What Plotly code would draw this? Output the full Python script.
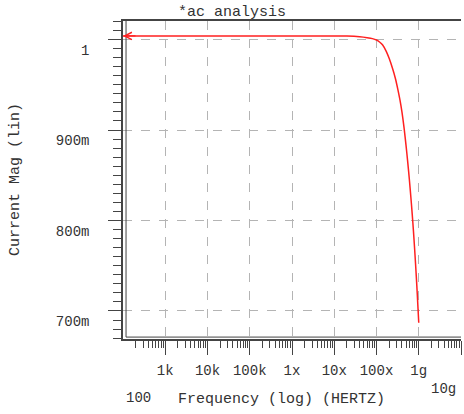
import math
import plotly.graph_objects as go

# --- data ---
freq = [100, 1e3, 1e4, 1e5, 1e6, 1e7, 2e7, 4e7, 6e7, 8e7, 1e8, 1.2e8, 1.4e8,
        1.7e8, 2e8, 2.4e8, 2.8e8, 3.2e8, 3.6e8, 4e8, 4.5e8, 5e8, 5.5e8, 6e8,
        6.5e8, 7e8, 7.5e8, 8e8, 8.5e8, 9e8, 9.5e8, 1e9]
mag = [1.004, 1.004, 1.004, 1.004, 1.004, 1.004, 1.0038, 1.003, 1.002, 1.001,
       0.9995, 0.997, 0.994, 0.987, 0.979, 0.968, 0.957, 0.945, 0.933, 0.920,
       0.902, 0.883, 0.864, 0.845, 0.826, 0.807, 0.788, 0.768, 0.748, 0.728,
       0.707, 0.687]

x_tickvals = [1e3, 1e4, 1e5, 1e6, 1e7, 1e8, 1e9, 1e10]
x_ticktext = ["1k", "10k", "100k", "1x", "10x", "100x", "1g", ""]
y_tickvals = [0.7, 0.8, 0.9, 1.0]
y_ticktext = ["700m", "800m", "900m", "1"]

FONT = "Liberation Mono, Courier New, monospace"
INK = "#333333"
AXIS = "#444444"
GRID = "#b4b4b4"

x_minor = [k * 10 ** d for d in range(2, 10) for k in range(2, 10)]
y_minor = [round(0.67 + 0.01 * i, 2) for i in range(36)]

fig = go.Figure()
fig.add_trace(go.Scatter(
    x=freq, y=mag, mode="lines",
    line=dict(color="#ff2020", width=1.5, shape="spline", smoothing=0.8),
    showlegend=False, hoverinfo="skip",
))

# arrow head at the left end of the curve
fig.add_annotation(
    x=math.log10(freq[0]), y=mag[0], xref="x", yref="y",
    ax=14, ay=0, showarrow=True, arrowhead=5, arrowsize=1.2,
    arrowwidth=1.2, arrowcolor="#ff2020", text="",
)

fig.update_xaxes(
    type="log", range=[2, 10], automargin=False,
    tickmode="array", tickvals=x_tickvals, ticktext=x_ticktext,
    ticks="outside", ticklen=14, tickcolor=AXIS, tickwidth=1.2,
    ticklabelstandoff=3,
    tickfont=dict(family=FONT, size=14, color=INK),
    showgrid=True, gridcolor=GRID, griddash="dash", gridwidth=1,
    minor=dict(tickmode="array", tickvals=x_minor, ticks="outside",
               ticklen=7, tickcolor=AXIS, showgrid=False),
    showline=True, linecolor=AXIS, linewidth=1.5, mirror=True,
    zeroline=False,
)
fig.update_yaxes(
    range=[0.669, 1.0205], automargin=False,
    tickmode="array", tickvals=y_tickvals, ticktext=y_ticktext,
    ticks="outside", ticklen=13, tickcolor=AXIS, tickwidth=1.2,
    ticklabelposition="outside bottom", ticklabelstandoff=29,
    tickfont=dict(family=FONT, size=14, color=INK),
    showgrid=True, gridcolor=GRID, griddash="dash", gridwidth=1,
    minor=dict(tickmode="array", tickvals=y_minor, ticks="outside",
               ticklen=8, tickcolor=AXIS, showgrid=False),
    showline=True, linecolor=AXIS, linewidth=1.5, mirror=False,
    zeroline=False,
)

# inner frame lines (double border look)
fig.add_shape(type="line", xref="paper", yref="paper",
              x0=0.009, x1=0.009, y0=0.006, y1=1,
              line=dict(color=AXIS, width=1))
fig.add_shape(type="line", xref="paper", yref="paper",
              x0=0.009, x1=1, y0=0.006, y1=0.006,
              line=dict(color=AXIS, width=1))

# edge labels and titles
lab = dict(showarrow=False, xref="paper", yref="paper",
           xanchor="center", yanchor="middle")
fig.add_annotation(text="100", x=0.047, y=-0.1855,
                   font=dict(family=FONT, size=14, color=INK), **lab)
fig.add_annotation(text="10g", x=0.947, y=-0.157,
                   font=dict(family=FONT, size=14, color=INK), **lab)
fig.add_annotation(text="Frequency (log) (HERTZ)", x=0.47, y=-0.189,
                   font=dict(family=FONT, size=15, color=INK), **lab)
fig.add_annotation(text="Current Mag (lin)", x=-0.3195, y=0.5, textangle=-90,
                   font=dict(family=FONT, size=15, color=INK), **lab)

fig.update_layout(
    width=464, height=414,
    margin=dict(l=123, r=3, t=21, b=75, autoexpand=False),
    paper_bgcolor="white", plot_bgcolor="white",
    title=dict(text="*ac analysis", x=232 / 464, xref="container",
               xanchor="center", y=1 - 11 / 414, yref="container",
               yanchor="middle", automargin=False,
               font=dict(family=FONT, size=15, color=INK)),
)

fig.write_html("out.html", config={"displayModeBar": False},
               post_script="document.body.style.margin='0';"
                           "document.body.style.overflow='hidden';")
